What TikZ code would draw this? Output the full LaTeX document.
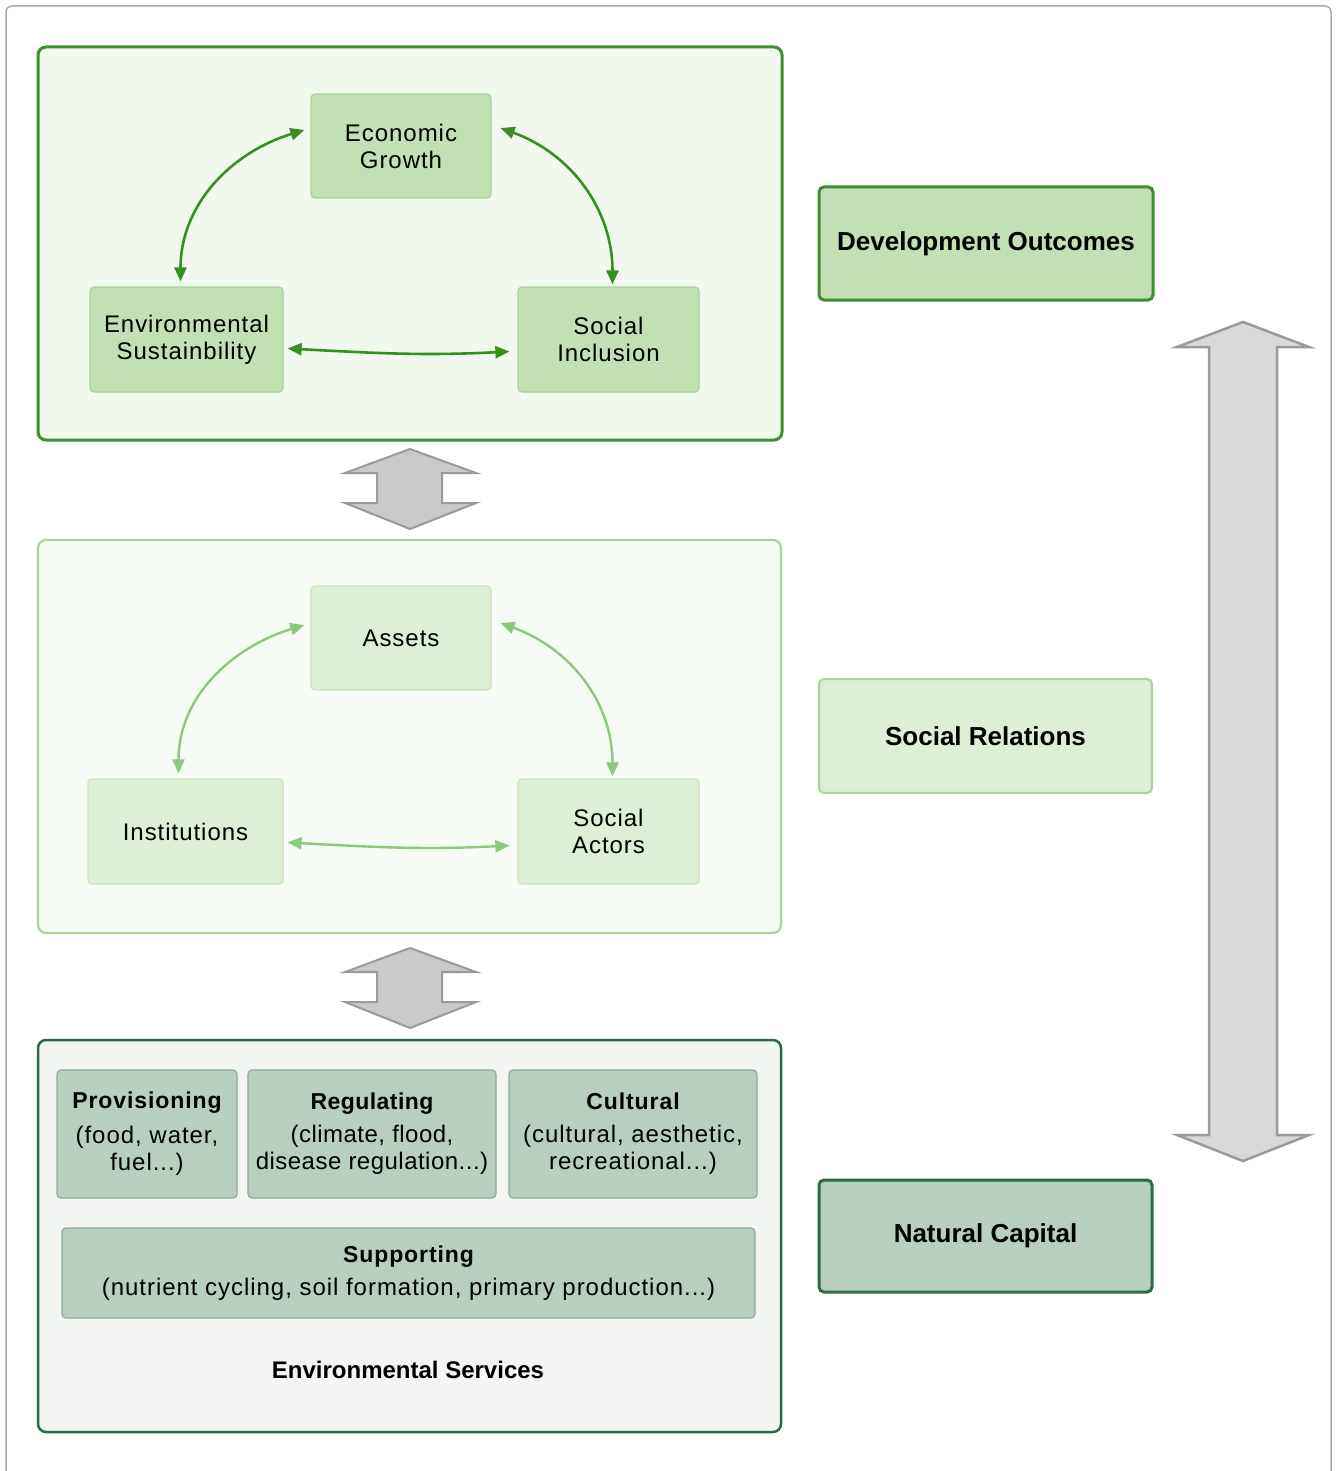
\documentclass[tikz,border=0pt]{standalone}
\usepackage{fontspec}
\setmainfont{Liberation Sans}
\newfontfamily\spaced[LetterSpace=4]{Liberation Sans}
\newfontfamily\spacedtight[LetterSpace=2]{Liberation Sans}
\usetikzlibrary{arrows.meta}
\definecolor{dkgreen}{HTML}{3F8F2F}
\definecolor{dkarrow}{HTML}{35901F}
\definecolor{toppanel}{HTML}{F1F8EE}
\definecolor{topbox}{HTML}{C2E0B4}
\definecolor{topboxline}{HTML}{A9D29A}
\definecolor{midline}{HTML}{A9D59C}
\definecolor{midpanel}{HTML}{F7FBF5}
\definecolor{midbox}{HTML}{DDEFD6}
\definecolor{midboxline}{HTML}{C8E4BD}
\definecolor{ltarrow}{HTML}{8DC97C}
\definecolor{botline}{HTML}{2E6B45}
\definecolor{botpanel}{HTML}{F3F5F3}
\definecolor{botbox}{HTML}{B8CEBF}
\definecolor{botboxline}{HTML}{8FAA98}
\definecolor{grayfill}{HTML}{C9C9C9}
\definecolor{grayline}{HTML}{9A9A9A}
\definecolor{bigfill}{HTML}{D9D9D9}
\definecolor{frameline}{HTML}{AAAAAA}
\tikzset{
  panelbox/.style={rectangle, rounded corners=8pt, inner sep=0pt},
  smallbox/.style={rectangle, rounded corners=4pt, inner sep=0pt, line width=1.2pt, align=center,
     font=\spaced\fontsize{24}{27}\selectfont},
  topb/.style={smallbox, fill=topbox, draw=topboxline},
  midb/.style={smallbox, fill=midbox, draw=midboxline},
  botb/.style={smallbox, fill=botbox, draw=botboxline},
  sidebox/.style={rectangle, rounded corners=5pt, inner sep=0pt, line width=3pt,
     font=\bfseries\fontsize{26}{30}\selectfont},
  dkconn/.style={draw=dkarrow, line width=2.6pt, {Triangle[length=14pt,width=12pt]}-{Triangle[length=14pt,width=12pt]}},
  ltconn/.style={draw=ltarrow, line width=2.4pt, {Triangle[length=14pt,width=12pt]}-{Triangle[length=14pt,width=12pt]}},
  grayarrow/.style={fill=grayfill, draw=grayline, line width=2pt, line join=miter},
  bigarrow/.style={fill=bigfill, draw=grayline, line width=2.5pt, line join=miter},
}
\newcommand{\ttl}[1]{{\bfseries\fontsize{23}{27}\selectfont #1}}
\begin{document}
\begin{tikzpicture}[x=1pt,y=-1pt]
\clip (0,0) rectangle (1336,1471);
\fill[white] (0,0) rectangle (1336,1471);
% outer frame
\draw[frameline, line width=1.5pt, rounded corners=6pt] (6,6) rectangle (1331,1500);

% panels
\node[panelbox, fill=toppanel, draw=dkgreen, line width=3pt, minimum width=744pt, minimum height=393pt] (top) at (410,243.5) {};
\node[panelbox, fill=midpanel, draw=midline, line width=2.2pt, minimum width=743pt, minimum height=393pt] (mid) at (409.5,736.5) {};
\node[panelbox, fill=botpanel, draw=botline, line width=2.5pt, minimum width=743pt, minimum height=392pt] (bot) at (409.5,1236) {};

% top layer
\node[topb, minimum width=180pt, minimum height=104pt] (eg) at (401,146) {Economic\\Growth};
\node[topb, minimum width=193pt, minimum height=105pt] (es) at (186.5,339.5) {Environmental\\Sustainbility};
\node[topb, minimum width=181pt, minimum height=105pt] (si) at (608.5,339.5) {Social\\Inclusion};

\draw[dkconn] ([xshift=-6pt,yshift=5pt]es.north) to[out=90,in=197] ([xshift=-6pt,yshift=16pt]eg.west);
\draw[dkconn] ([xshift=9pt,yshift=18pt]eg.east) to[out=-20,in=90] ([xshift=4pt,yshift=2pt]si.north);
\draw[dkconn] ([xshift=4pt,yshift=-9pt]es.east) to[out=-3,in=183] ([xshift=-8pt,yshift=-12pt]si.west);

% middle layer
\node[midb, minimum width=180pt, minimum height=104pt] (as) at (401,638) {Assets};
\node[midb, minimum width=195pt, minimum height=105pt] (in) at (185.5,831.5) {Institutions};
\node[midb, minimum width=181pt, minimum height=105pt] (sa) at (608.5,831.5) {Social\\Actors};

\draw[ltconn] ([xshift=-7pt,yshift=5pt]in.north) to[out=90,in=197] ([xshift=-6pt,yshift=13pt]as.west);
\draw[ltconn] ([xshift=9pt,yshift=15pt]as.east) to[out=-20,in=90] ([xshift=4pt,yshift=2pt]sa.north);
\draw[ltconn] ([xshift=4pt,yshift=-11pt]in.east) to[out=-3,in=183] ([xshift=-8pt,yshift=-14pt]sa.west);

% bottom layer
\node[botb, minimum width=180pt, minimum height=128pt] (pr) at (147,1134) {\ttl{Provisioning}\\[8pt](food, water,\\fuel...)};
\node[botb, minimum width=248pt, minimum height=128pt, font=\spacedtight\fontsize{24}{27}\selectfont] (rg) at (372,1134) {\ttl{Regulating}\\[6pt](climate, flood,\\disease regulation...)};
\node[botb, minimum width=248pt, minimum height=128pt] (cu) at (633,1134) {\ttl{Cultural}\\[6pt](cultural, aesthetic,\\recreational...)};
\node[botb, minimum width=693pt, minimum height=90pt] (su) at (408.5,1273) {\ttl{Supporting}\\[6pt](nutrient cycling, soil formation, primary production...)};
\node[font=\bfseries\fontsize{24}{27}\selectfont] (envs) at (408,1370) {Environmental Services};

% gray connecting arrows
\draw[grayarrow] (410,449) -- (476,473) -- (442,473) -- (442,503) -- (476,503) -- (410,529)
  -- (345,503) -- (377,503) -- (377,473) -- (345,473) -- cycle;
\draw[grayarrow] (410,948) -- (476,972) -- (442,972) -- (442,1002) -- (476,1002) -- (410,1028)
  -- (345,1002) -- (377,1002) -- (377,972) -- (345,972) -- cycle;

% right side
\node[sidebox, fill=topbox, draw=dkgreen, minimum width=334pt, minimum height=113pt] (dev) at (986,243.5) {Development Outcomes};
\node[sidebox, fill=midbox, draw=midline, line width=2.2pt, minimum width=333pt, minimum height=114pt] (sr) at (985.5,736) {Social Relations};
\node[sidebox, fill=botbox, draw=botline, minimum width=333pt, minimum height=112pt] (nc) at (985.5,1236) {Natural Capital};

\draw[bigarrow] (1243,322) -- (1309,347) -- (1277,347) -- (1277,1135) -- (1309,1135) -- (1243,1161)
  -- (1177,1135) -- (1209,1135) -- (1209,347) -- (1177,347) -- cycle;
\end{tikzpicture}
\end{document}
